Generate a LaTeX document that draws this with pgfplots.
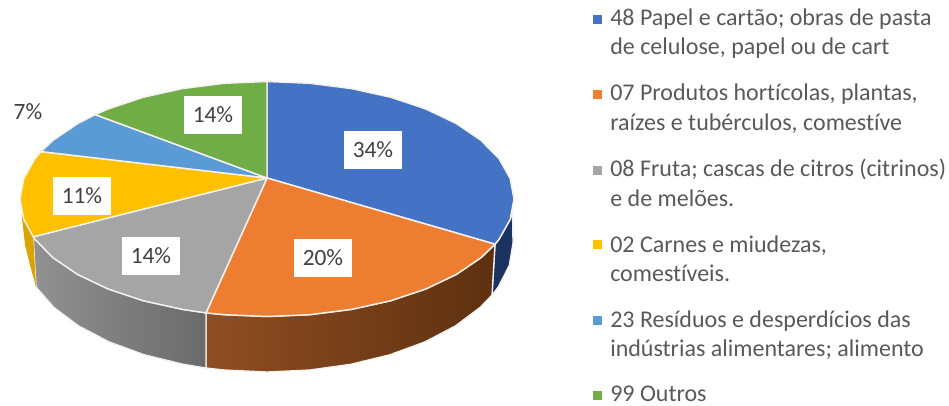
\documentclass[border=0pt]{standalone}
\usepackage{pgfplots}
\pgfplotsset{compat=1.18}
\usepackage{fontspec}
\setmainfont[Ligatures=NoCommon]{Carlito}
\definecolor{cblue}{HTML}{4472C4}
\definecolor{corange}{HTML}{ED7D31}
\definecolor{cgrey}{HTML}{A5A5A5}
\definecolor{cyellow}{HTML}{FFC000}
\definecolor{clight}{HTML}{5B9BD5}
\definecolor{cgreen}{HTML}{70AD47}
\definecolor{txt}{HTML}{595959}
\definecolor{lbl}{HTML}{404040}
\definecolor{rim}{HTML}{F4F1EC}
\definecolor{navyS}{HTML}{1B3360}
\definecolor{brownA}{HTML}{8F4E22}
\definecolor{brownB}{HTML}{69380F}
\definecolor{brownC}{HTML}{5E3010}
\definecolor{greyA}{HTML}{929292}
\definecolor{greyB}{HTML}{6A6A6A}
\definecolor{yellowS}{HTML}{D9A300}
\tikzset{
  lab/.style={font=\fontsize{17.5}{20}\selectfont, text=lbl, fill=white, minimum width=43.5pt, minimum height=28.5pt, inner sep=0pt},
  leg/.style={anchor=base west, font=\fontsize{18}{20}\selectfont, text=txt, inner sep=0pt},
}
\begin{document}
\begin{tikzpicture}
\begin{axis}[
  scale only axis, width=711.75pt, height=304.5pt,
  xmin=0, xmax=949, ymin=0, ymax=406, y dir=reverse,
  axis lines=none, clip=false,
  every axis plot/.append style={line join=round},
]
\path[use as bounding box] (axis cs:0,0) rectangle (axis cs:949,406);
% side walls
\addplot[draw=rim, line width=1pt, fill=navyS] coordinates {
 (495,244.2)(499.1,239.2)(510.2,219.4)(512.5,210)(513,243)(509.3,265.4)(498.2,287.1)(492,295.1)} -- cycle;
\addplot[draw=rim, line width=1pt, left color=brownA, middle color=brownB, right color=brownC] coordinates {
 (495,244.2)(480.9,257.8)(456.2,274.5)(425.8,289)(390.5,300.8)(351.5,309.4)(309.9,314.7)(267,316.5)(224.1,314.7)(206,312.9)
 (206,368)(224.3,370)(267,372)(309.7,370)(351.1,364.2)(390,354.7)(425.1,341.8)(455.4,325.9)(480,307.5)(492,295.1)} -- cycle;
\addplot[draw=rim, line width=1pt, left color=greyA, right color=greyB] coordinates {
 (206,312.9)(182.5,309.4)(143.5,300.8)(108.2,289)(77.8,274.5)(53.1,257.8)(34.9,239.2)(33.2,236.8)
 (36,287)(54,307.5)(78.6,325.9)(108.9,341.8)(144,354.7)(182.9,364.2)(206,368)} -- cycle;
\addplot[draw=none, fill=yellowS] coordinates {
 (33.2,236.8)(23.8,219.4)(21.5,214)(22,218)(25,245)(30,265)(36,287)} -- cycle;
% top faces
\addplot[draw=rim, line width=1.1pt, fill=cblue] coordinates {
 (267,178)(267,81.5)(309.9,83.3)(351.5,88.6)(390.5,97.2)(425.8,109)(456.2,123.5)(480.9,140.3)(499.1,158.8)(510.2,178.6)(514,199)(510.2,219.4)(499.1,239.2)(495,244.2)} -- cycle;
\addplot[draw=rim, line width=1.1pt, fill=corange] coordinates {
 (267,178)(495,244.2)(480.9,257.8)(456.2,274.5)(425.8,289)(390.5,300.8)(351.5,309.4)(309.9,314.7)(267,316.5)(224.1,314.7)(206,312.9)} -- cycle;
\addplot[draw=rim, line width=1.1pt, fill=cgrey] coordinates {
 (267,178)(206,312.9)(182.5,309.4)(143.5,300.8)(108.2,289)(77.8,274.5)(53.1,257.8)(34.9,239.2)(33.2,236.8)} -- cycle;
\addplot[draw=rim, line width=1.1pt, fill=cyellow] coordinates {
 (267,178)(33.2,236.8)(23.8,219.4)(20,199)(23.8,178.6)(34.9,158.8)(41,151.6)} -- cycle;
\addplot[draw=rim, line width=1.1pt, fill=clight] coordinates {
 (267,178)(41,151.6)(53.1,140.3)(77.8,123.5)(95.2,114.6)} -- cycle;
\addplot[draw=rim, line width=1.1pt, fill=cgreen] coordinates {
 (267,178)(95.2,114.6)(108.2,109)(143.5,97.2)(182.5,88.6)(224.1,83.3)(267,81.5)} -- cycle;
% legend keys
\addplot[only marks, mark=square*, mark size=3pt, mark options={draw=cblue, fill=cblue}] coordinates {(597,19)};
\addplot[only marks, mark=square*, mark size=3pt, mark options={draw=corange, fill=corange}] coordinates {(597,94)};
\addplot[only marks, mark=square*, mark size=3pt, mark options={draw=cgrey, fill=cgrey}] coordinates {(597,170)};
\addplot[only marks, mark=square*, mark size=3pt, mark options={draw=cyellow, fill=cyellow}] coordinates {(597,244)};
\addplot[only marks, mark=square*, mark size=3pt, mark options={draw=clight, fill=clight}] coordinates {(597,320)};
\addplot[only marks, mark=square*, mark size=3pt, mark options={draw=cgreen, fill=cgreen}] coordinates {(597,395)};
% data labels
\node[lab] at (axis cs:373,150) {34\%};
\node[lab] at (axis cs:323,258) {20\%};
\node[lab] at (axis cs:151,256) {14\%};
\node[lab] at (axis cs:82,196) {11\%};
\node[lab, fill=none] at (axis cs:28,112) {7\%};
\node[lab] at (axis cs:213,115) {14\%};
% legend text
\node[leg] at (axis cs:610,26) {48 Papel e cartão; obras de pasta};
\node[leg] at (axis cs:610,55) {de celulose, papel ou de cart};
\node[leg] at (axis cs:610,101) {07 Produtos hortícolas, plantas,};
\node[leg] at (axis cs:610,131) {raízes e tubérculos, comestíve};
\node[leg] at (axis cs:610,176) {08 Fruta; cascas de citros (citrinos)};
\node[leg] at (axis cs:610,206) {e de melões.};
\node[leg] at (axis cs:610,252) {02 Carnes e miudezas,};
\node[leg] at (axis cs:610,281) {comestíveis.};
\node[leg] at (axis cs:610,327) {23 Resíduos e desperdícios das};
\node[leg] at (axis cs:610,356) {indústrias alimentares; alimento};
\node[leg] at (axis cs:610,401) {99 Outros};
\end{axis}
\end{tikzpicture}
\end{document}
